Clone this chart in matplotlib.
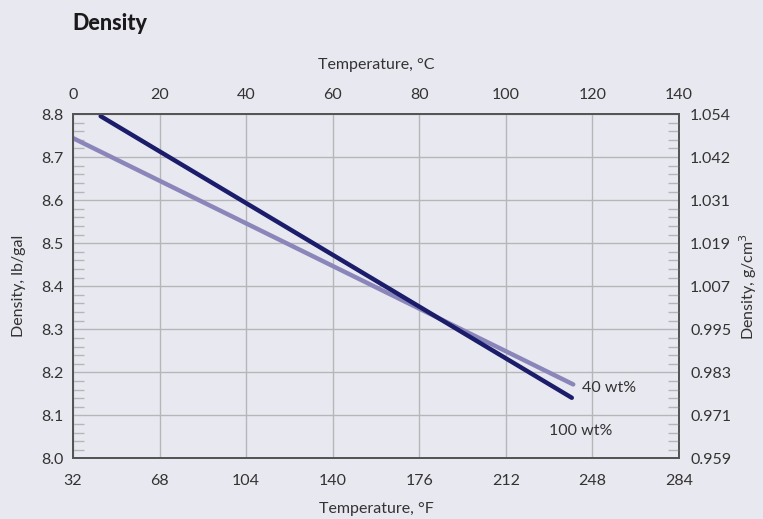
import matplotlib
matplotlib.use("Agg")
import matplotlib.pyplot as plt
from matplotlib.ticker import MultipleLocator

# values (both lines are straight)
temp_f_100 = [43.5, 239.4]
dens_100 = [8.795, 8.141]
temp_f_40 = [32.0, 240.0]
dens_40 = [8.744, 8.172]

f_ticks = [32, 68, 104, 140, 176, 212, 248, 284]
c_ticks = [0, 20, 40, 60, 80, 100, 120, 140]
lb_ticks = [8.0, 8.1, 8.2, 8.3, 8.4, 8.5, 8.6, 8.7, 8.8]
g_labels = ["0.959", "0.971", "0.983", "0.995", "1.007",
            "1.019", "1.031", "1.042", "1.054"]

BG = "#e8e8f0"
DARK = "#1b1d6b"
LIGHT = "#8a86ba"
TXT = "#333333"
GRID = "#b6b6ba"
FS = 11.5


def draw():
    plt.rcParams["font.family"] = ["Lato", "DejaVu Sans"]
    fig = plt.figure(figsize=(7.63, 5.19), dpi=100, facecolor=BG)
    ax = fig.add_axes([0.0957, 0.1166, 0.7943, 0.6637], facecolor=BG)

    ax.plot(temp_f_40, dens_40, color=LIGHT, lw=3.2, solid_capstyle="round")
    ax.plot(temp_f_100, dens_100, color=DARK, lw=3.2, solid_capstyle="round")

    ax.set_xlim(32, 284)
    ax.set_ylim(8.0, 8.8)
    ax.set_xticks(f_ticks)
    ax.set_yticks(lb_ticks)
    ax.set_yticklabels([f"{v:.1f}" for v in lb_ticks])
    ax.yaxis.set_minor_locator(MultipleLocator(0.02))
    ax.grid(True, color=GRID, lw=1.0)
    ax.set_axisbelow(True)
    ax.tick_params(axis="both", which="major", length=0, labelsize=FS,
                   labelcolor=TXT)
    ax.tick_params(axis="x", pad=11)
    ax.tick_params(axis="y", pad=7)
    ax.tick_params(axis="y", which="minor", direction="in", length=8,
                   color=GRID, width=1)
    for s in ax.spines.values():
        s.set_color("#555555")
        s.set_linewidth(1.2)

    ax.set_xlabel("Temperature, °F", fontsize=FS, color=TXT, labelpad=10)
    ax.set_ylabel("Density, lb/gal", fontsize=FS, color=TXT, labelpad=11)

    top = ax.twiny()
    top.set_xlim(0, 140)
    top.set_xticks(c_ticks)
    top.tick_params(axis="x", length=0, labelsize=FS, labelcolor=TXT, pad=9)
    top.set_xlabel("Temperature, °C", fontsize=FS, color=TXT, labelpad=13)

    right = ax.twinx()
    right.set_ylim(8.0, 8.8)
    right.set_yticks(lb_ticks)
    right.set_yticklabels(g_labels)
    right.yaxis.set_minor_locator(MultipleLocator(0.02))
    right.tick_params(axis="y", which="major", length=0, labelsize=FS,
                      labelcolor=TXT, pad=8)
    right.tick_params(axis="y", which="minor", direction="in", length=8,
                      color=GRID, width=1)
    right.set_ylabel("Density, g/cm$^3$", fontsize=FS, color=TXT, labelpad=4)
    for s in list(top.spines.values()) + list(right.spines.values()):
        s.set_color("#555555")
        s.set_linewidth(1.2)

    ax.text(243.5, 8.164, "40 wt%", fontsize=FS, color=TXT, va="center")
    ax.text(230, 8.064, "100 wt%", fontsize=FS, color=TXT, va="center")

    fig.text(0.0944, 0.955, "Density", fontsize=15.5, fontweight="black",
             color="#1a1a1a", va="center")

    plt.savefig("out.png", dpi=100, facecolor=BG)


def main():
    draw()


if __name__ == "__main__":
    main()
